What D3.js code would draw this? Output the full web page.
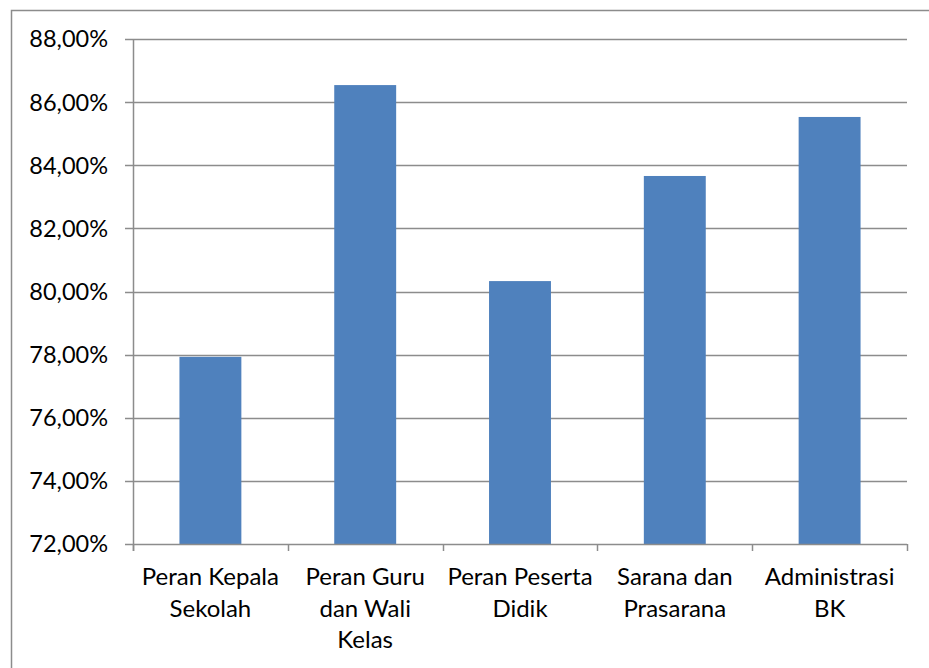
<!DOCTYPE html>
<html lang="en">
<head>
<meta charset="utf-8">
<script src="https://d3js.org/d3.v7.min.js"></script>
<style>
  body { margin: 0; background: #fff; }
  svg { display: block; }
  .lbl { font-family: Lato, 'Open Sans', sans-serif; font-size: 23.5px; fill: #000; }
  .cat { font-size: 24px; }
</style>
</head>
<body>
<div id="chart"></div>
<script>
const width = 929;
const height = 668;

// data
const categories = [
  ["Peran Kepala", "Sekolah"],
  ["Peran Guru", "dan Wali", "Kelas"],
  ["Peran Peserta", "Didik"],
  ["Sarana dan", "Prasarana"],
  ["Administrasi", "BK"]
];
const values = [77.93, 86.54, 80.33, 83.66, 85.53];
const yTicks = [72, 74, 76, 78, 80, 82, 84, 86, 88];

const margin = { left: 133, right: 22, top: 39, bottom: 124 };

const svg = d3.select("#chart").append("svg")
    .attr("width", width)
    .attr("height", height);

// outer chart border
svg.append("rect")
    .attr("x", 11.5).attr("y", 10.5)
    .attr("width", 950).attr("height", 700)
    .attr("fill", "none")
    .attr("stroke", "#8c8c8c")
    .attr("stroke-width", 1.5);

const x = d3.scaleBand()
    .domain(d3.range(categories.length))
    .range([margin.left, width - margin.right])
    .paddingInner(0.6)
    .paddingOuter(0.3);

const y = d3.scaleLinear()
    .domain([72, 88])
    .range([height - margin.bottom, margin.top]);

// gridlines
svg.append("g")
  .selectAll("line")
  .data(yTicks.slice(1))
  .join("line")
    .attr("x1", margin.left - 8)
    .attr("x2", width - margin.right)
    .attr("y1", d => Math.round(y(d)) + 0.5)
    .attr("y2", d => Math.round(y(d)) + 0.5)
    .attr("stroke", "#8c8c8c")
    .attr("stroke-width", 1.5);

// bars
svg.append("g")
  .selectAll("rect")
  .data(values)
  .join("rect")
    .attr("x", (d, i) => x(i))
    .attr("width", x.bandwidth())
    .attr("y", d => y(d))
    .attr("height", d => y(72) - y(d))
    .attr("fill", "#4f81bd");

// y axis line
svg.append("line")
    .attr("x1", margin.left + 0.5).attr("x2", margin.left + 0.5)
    .attr("y1", y(88)).attr("y2", y(72) + 7)
    .attr("stroke", "#8c8c8c").attr("stroke-width", 1.5);

svg.append("line")
    .attr("x1", margin.left - 8).attr("x2", width - margin.right)
    .attr("y1", Math.round(y(72)) + 0.5).attr("y2", Math.round(y(72)) + 0.5)
    .attr("stroke", "#8c8c8c").attr("stroke-width", 1.5);

// category ticks between bands
const boundaries = d3.range(categories.length + 1).map(i => margin.left + (width - margin.right - margin.left) * i / categories.length);
svg.append("g")
  .selectAll("line")
  .data(boundaries)
  .join("line")
    .attr("x1", d => Math.round(d) + 0.5).attr("x2", d => Math.round(d) + 0.5)
    .attr("y1", y(72)).attr("y2", y(72) + 7)
    .attr("stroke", "#8c8c8c").attr("stroke-width", 1.5);

// y tick labels
const fmt = d => d.toFixed(2).replace(".", ",") + "%";
svg.append("g")
  .selectAll("text")
  .data(yTicks)
  .join("text")
    .attr("class", "lbl")
    .attr("x", 108)
    .attr("y", d => y(d))
    .attr("dy", "0.36em")
    .attr("text-anchor", "end")
    .text(fmt);

// category labels
svg.append("g")
  .selectAll("text")
  .data(categories)
  .join("text")
    .attr("class", "lbl cat")
    .attr("text-anchor", "middle")
    .attr("x", (d, i) => x(i) + x.bandwidth() / 2)
    .attr("y", 585)
    .selectAll("tspan")
    .data(d => d)
    .join("tspan")
      .attr("x", function() { return d3.select(this.parentNode).attr("x"); })
      .attr("dy", (d, i) => i === 0 ? 0 : 31.5)
      .text(d => d);
</script>
</body>
</html>
